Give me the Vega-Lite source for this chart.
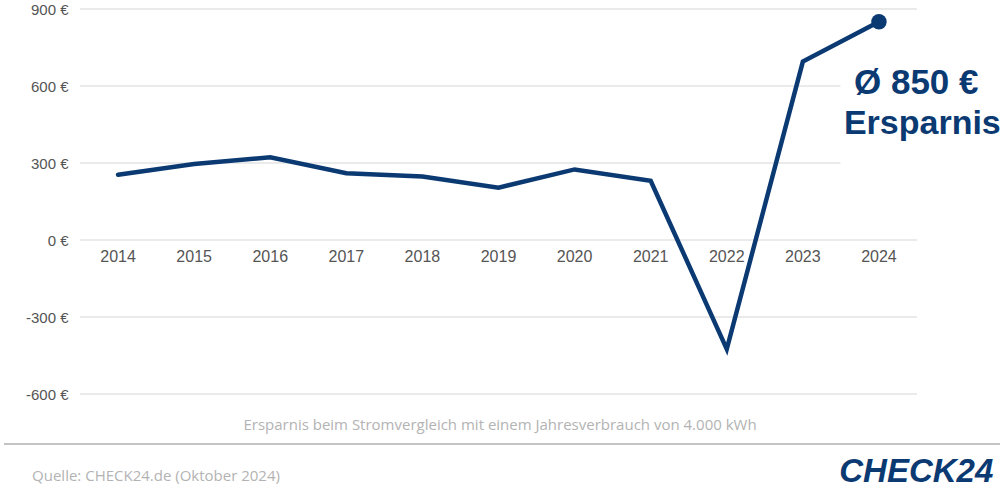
{
  "$schema": "https://vega.github.io/schema/vega-lite/v6.json",
  "width": 837,
  "height": 385,
  "autosize": "none",
  "padding": {"left": 80, "top": 9, "right": 83, "bottom": 110},
  "background": "white",
  "config": {"view": {"stroke": null}, "font": "Liberation Sans"},
  "datasets": {
    "series": [
      {"year": 2014, "value": 254},
      {"year": 2015, "value": 296},
      {"year": 2016, "value": 322},
      {"year": 2017, "value": 260},
      {"year": 2018, "value": 247},
      {"year": 2019, "value": 204},
      {"year": 2020, "value": 275},
      {"year": 2021, "value": 231},
      {"year": 2022, "value": -425},
      {"year": 2023, "value": 695},
      {"year": 2024, "value": 850}
    ],
    "notes": [
      {"kind": "big", "label": "Ø 850 €", "x": 2024.49, "y": 569},
      {"kind": "big2", "label": "Ersparnis", "x": 2024.57, "y": 412},
      {"kind": "caption", "label": "Ersparnis beim Stromvergleich mit einem Jahresverbrauch von 4.000 kWh", "x": 2019.02, "y": -742},
      {"kind": "source", "label": "Quelle: CHECK24.de (Oktober 2024)", "x": 2012.87, "y": -938},
      {"kind": "logo", "label": "CHECK24", "x": 2024.49, "y": -943}
    ]
  },
  "data": {"name": "series"},
  "layer": [
    {
      "mark": {"type": "rule", "color": "#e3e3e3", "strokeWidth": 1.5},
      "data": {"values": [{"g": -600}, {"g": -300}, {"g": 0}, {"g": 300}, {"g": 600}, {"g": 900}]},
      "encoding": {
        "y": {
          "field": "g", "type": "quantitative",
          "scale": {"domain": [-600, 900], "nice": false, "zero": false},
          "axis": {
            "values": [-600, -300, 0, 300, 600, 900],
            "labelExpr": "datum.value + ' €'",
            "domain": false, "ticks": false, "grid": false, "labelPadding": 12,
            "labelFontSize": 15, "labelColor": "#555555", "labelFont": "Liberation Sans",
            "title": null
          }
        }
      }
    },
    {
      "mark": {"type": "rect", "color": "white"},
      "encoding": {
        "x": {"datum": 2023.5, "type": "quantitative", "scale": {"domain": [2013.5, 2024.5], "nice": false, "zero": false}, "axis": null},
        "x2": {"datum": 2024.5},
        "y": {"datum": 180, "type": "quantitative", "scale": {"domain": [-600, 900], "nice": false, "zero": false}},
        "y2": {"datum": 700}
      }
    },
    {
      "mark": {"type": "line", "color": "#0b3a73", "strokeWidth": 4.5, "strokeCap": "round"},
      "encoding": {
        "x": {"field": "year", "type": "quantitative", "scale": {"domain": [2013.5, 2024.5], "nice": false, "zero": false}, "axis": null},
        "y": {"field": "value", "type": "quantitative", "scale": {"domain": [-600, 900], "nice": false, "zero": false}}
      }
    },
    {
      "transform": [{"filter": "datum.year == 2024"}],
      "mark": {"type": "circle", "color": "#0b3a73", "size": 240, "opacity": 1},
      "encoding": {
        "x": {"field": "year", "type": "quantitative", "scale": {"domain": [2013.5, 2024.5], "nice": false, "zero": false}},
        "y": {"field": "value", "type": "quantitative", "scale": {"domain": [-600, 900], "nice": false, "zero": false}}
      }
    },
    {
      "mark": {"type": "text", "color": "#555555", "fontSize": 16, "baseline": "middle", "dy": 17, "font": "Liberation Sans"},
      "encoding": {
        "x": {"field": "year", "type": "quantitative", "scale": {"domain": [2013.5, 2024.5], "nice": false, "zero": false}},
        "y": {"datum": 0, "type": "quantitative", "scale": {"domain": [-600, 900], "nice": false, "zero": false}},
        "text": {"field": "year", "type": "nominal"}
      }
    },
    {
      "data": {"name": "notes"},
      "transform": [{"filter": "datum.kind == 'big'"}],
      "mark": {"type": "text", "color": "#0b3a73", "fontSize": 35, "fontWeight": "bold", "align": "center", "baseline": "alphabetic", "font": "Liberation Sans"},
      "encoding": {
        "x": {"field": "x", "type": "quantitative", "scale": {"domain": [2013.5, 2024.5], "nice": false, "zero": false}},
        "y": {"field": "y", "type": "quantitative", "scale": {"domain": [-600, 900], "nice": false, "zero": false}},
        "text": {"field": "label"}
      }
    },
    {
      "data": {"name": "notes"},
      "transform": [{"filter": "datum.kind == 'big2'"}],
      "mark": {"type": "text", "color": "#0b3a73", "fontSize": 34, "fontWeight": "bold", "align": "center", "baseline": "alphabetic", "font": "Liberation Sans"},
      "encoding": {
        "x": {"field": "x", "type": "quantitative", "scale": {"domain": [2013.5, 2024.5], "nice": false, "zero": false}},
        "y": {"field": "y", "type": "quantitative", "scale": {"domain": [-600, 900], "nice": false, "zero": false}},
        "text": {"field": "label"}
      }
    },
    {
      "data": {"name": "notes"},
      "transform": [{"filter": "datum.kind == 'caption'"}],
      "mark": {"type": "text", "color": "#b3b3b3", "fontSize": 15, "align": "center", "baseline": "alphabetic", "font": "Open Sans"},
      "encoding": {
        "x": {"field": "x", "type": "quantitative", "scale": {"domain": [2013.5, 2024.5], "nice": false, "zero": false}},
        "y": {"field": "y", "type": "quantitative", "scale": {"domain": [-600, 900], "nice": false, "zero": false}},
        "text": {"field": "label"}
      }
    },
    {
      "data": {"name": "notes"},
      "transform": [{"filter": "datum.kind == 'source'"}],
      "mark": {"type": "text", "color": "#b3b3b3", "fontSize": 15, "align": "left", "baseline": "alphabetic", "font": "Open Sans"},
      "encoding": {
        "x": {"field": "x", "type": "quantitative", "scale": {"domain": [2013.5, 2024.5], "nice": false, "zero": false}},
        "y": {"field": "y", "type": "quantitative", "scale": {"domain": [-600, 900], "nice": false, "zero": false}},
        "text": {"field": "label"}
      }
    },
    {
      "data": {"name": "notes"},
      "transform": [{"filter": "datum.kind == 'logo'"}],
      "mark": {"type": "text", "color": "#0b3a73", "fontSize": 33, "fontWeight": "bold", "fontStyle": "italic", "align": "center", "baseline": "alphabetic", "font": "Liberation Sans"},
      "encoding": {
        "x": {"field": "x", "type": "quantitative", "scale": {"domain": [2013.5, 2024.5], "nice": false, "zero": false}},
        "y": {"field": "y", "type": "quantitative", "scale": {"domain": [-600, 900], "nice": false, "zero": false}},
        "text": {"field": "label"}
      }
    },
    {
      "mark": {"type": "rule", "color": "#c4c4c4", "strokeWidth": 2},
      "encoding": {
        "x": {"datum": 2012.51, "type": "quantitative", "scale": {"domain": [2013.5, 2024.5], "nice": false, "zero": false}},
        "x2": {"datum": 2025.6},
        "y": {"datum": -795, "type": "quantitative", "scale": {"domain": [-600, 900], "nice": false, "zero": false}}
      }
    }
  ]
}
